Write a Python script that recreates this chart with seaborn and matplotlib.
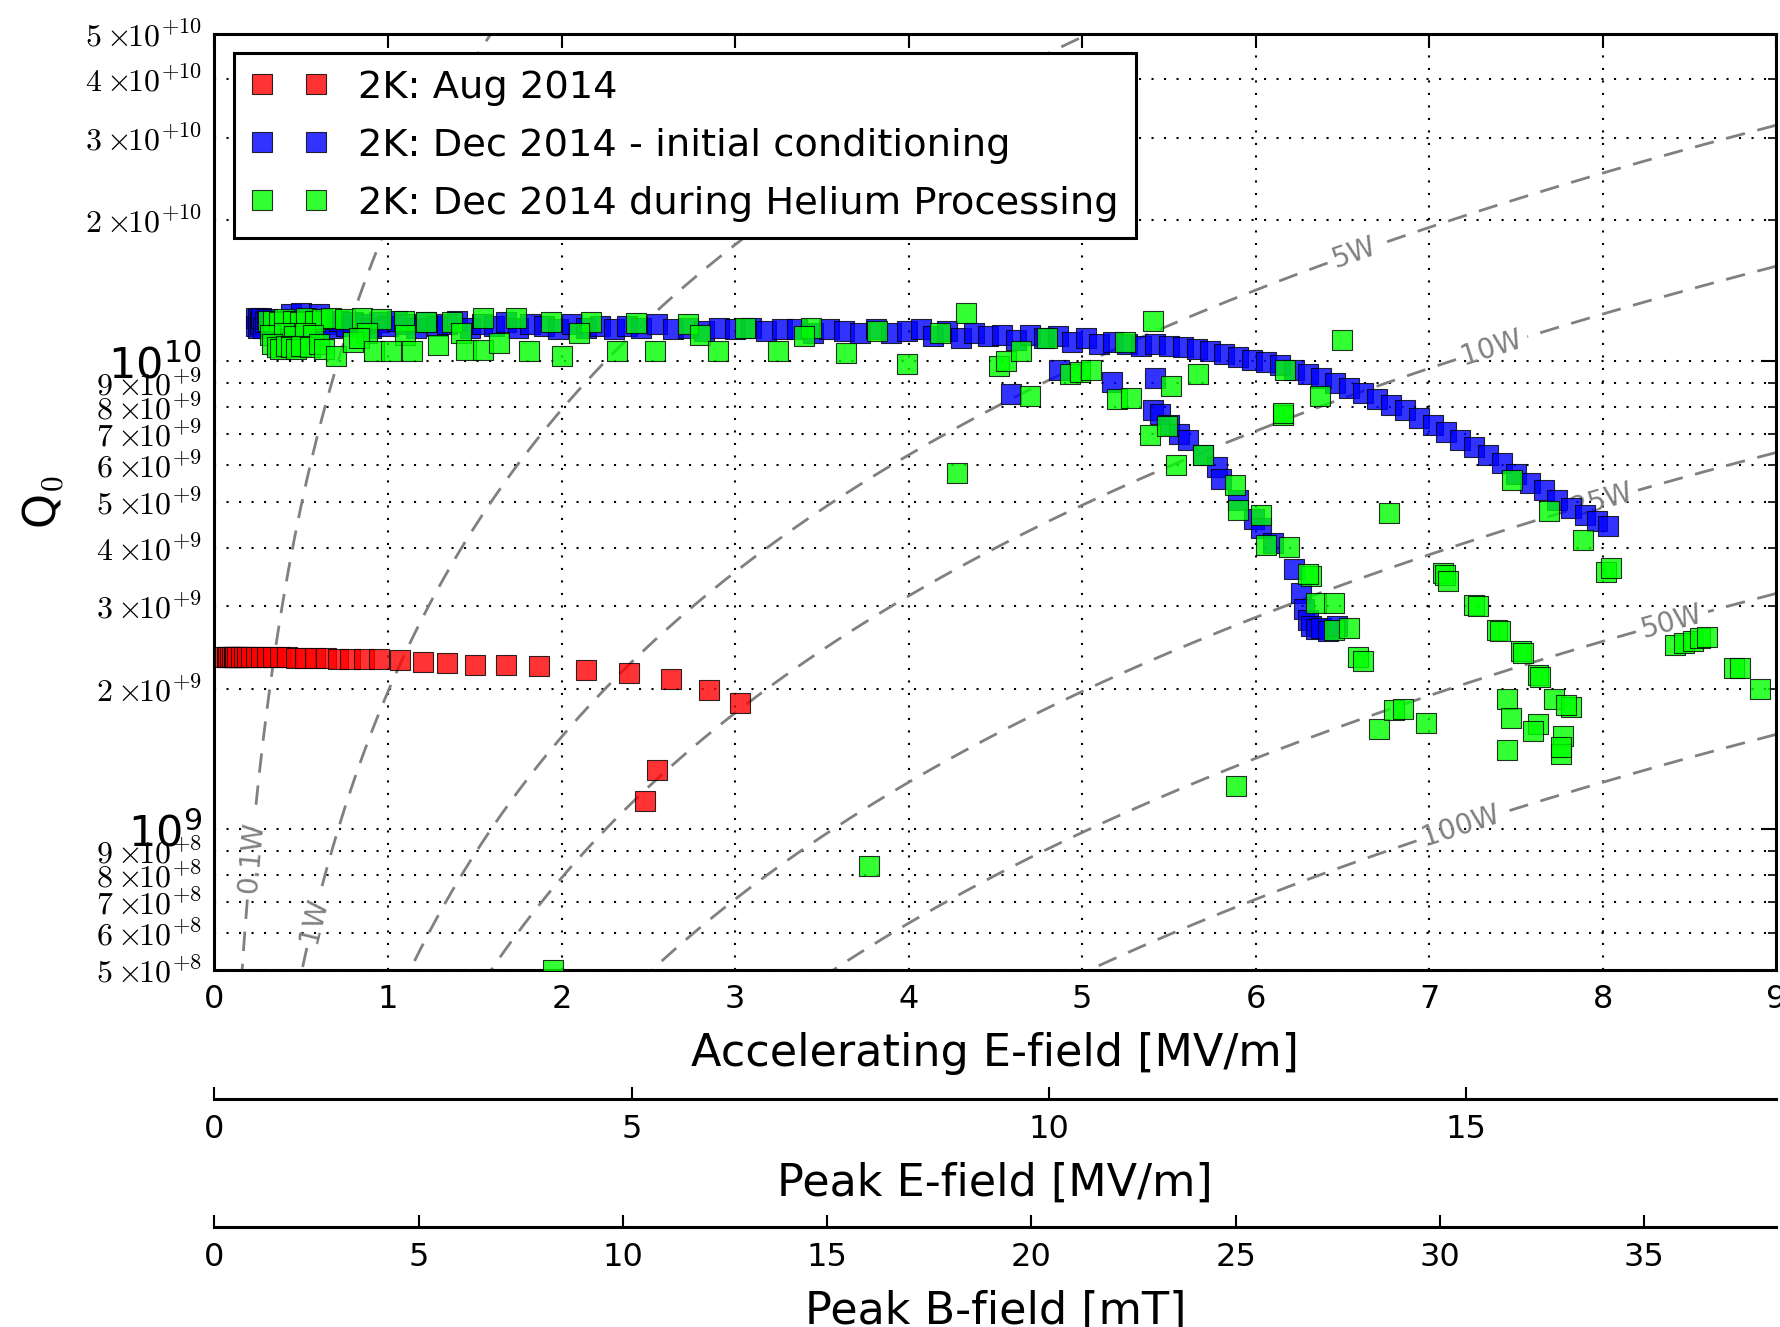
import numpy as np
import pandas as pd
import matplotlib
matplotlib.use("Agg")
import matplotlib.pyplot as plt
import seaborn as sns
from matplotlib.ticker import LogLocator, FuncFormatter, MultipleLocator

# ---------------- data ----------------
LEGEND_LABELS = ["2K: Aug 2014",
                 "2K: Dec 2014 - initial conditioning",
                 "2K: Dec 2014 during Helium Processing"]

# Aug 2014 (red): accelerating field [MV/m], Q0 [x1e9]
E_red = [0.06, 0.07, 0.08, 0.09, 0.10, 0.11, 0.12, 0.13, 0.15, 0.17,
         0.19, 0.21, 0.24, 0.27, 0.30, 0.34, 0.38, 0.42, 0.47, 0.52,
         0.58, 0.64, 0.71, 0.78, 0.86, 0.95, 1.07, 1.20, 1.34, 1.50,
         1.68, 1.87, 2.14, 2.39, 2.63, 2.85, 3.03, 2.55, 2.48]
Q_red = [2.34, 2.34, 2.34, 2.34, 2.34, 2.34, 2.34, 2.34, 2.34, 2.34,
         2.34, 2.34, 2.33, 2.33, 2.33, 2.33, 2.33, 2.33, 2.32, 2.32,
         2.32, 2.32, 2.31, 2.31, 2.31, 2.31, 2.30, 2.28, 2.27, 2.25,
         2.24, 2.23, 2.19, 2.16, 2.10, 1.99, 1.86, 1.34, 1.15]

# Dec 2014 initial conditioning (blue), Q0 [x1e9]
E_blue = [0.24, 0.24, 0.25, 0.25, 0.26, 0.26, 0.27, 0.28, 0.29, 0.30,
          0.32, 0.34, 0.36, 0.38, 0.41, 0.44, 0.47, 0.50, 0.53, 0.56,
          0.60, 0.64, 0.68, 0.72, 0.76, 0.80, 0.85, 0.90, 0.95, 1.00,
          1.05, 1.10, 1.16, 1.22, 1.28, 1.34, 1.40, 1.47, 1.54, 1.61,
          1.68, 1.75, 1.82, 1.90, 1.98, 2.06, 2.14, 2.22, 2.30, 2.38,
          2.46, 2.55, 2.64, 2.73, 2.82, 2.91, 3.00, 3.09, 3.18, 3.27,
          3.36, 3.45, 3.54, 3.63, 3.72, 3.81, 3.90, 3.99,
          4.07, 4.14, 4.22, 4.30, 4.38, 4.46, 4.54, 4.62, 4.70, 4.78,
          4.86, 4.94, 5.02, 5.10, 5.18, 5.26, 5.34, 5.42, 5.50, 5.58,
          5.66, 5.74, 5.82, 5.90, 5.98, 6.06, 6.14, 6.22, 6.30, 6.38,
          6.46, 6.54, 6.62, 6.70, 6.78, 6.86, 6.94, 7.02, 7.10, 7.18,
          7.26, 7.34, 7.42, 7.50, 7.58, 7.66, 7.74, 7.82, 7.90, 7.97,
          8.03,
          4.59, 4.87, 5.17, 5.42, 5.41, 5.45, 5.50, 5.56, 5.61, 5.70,
          5.78, 5.80, 5.90, 5.99, 6.03, 6.10, 6.22, 6.26, 6.28, 6.30,
          6.32, 6.35, 6.38, 6.42, 6.47]
Q_blue = [12.4, 11.9, 12.3, 11.8, 12.2, 12.0, 12.4, 11.8, 12.1, 12.3,
          11.9, 12.2, 11.8, 12.1, 12.0, 12.6, 11.9, 12.7, 12.1, 11.8,
          12.6, 12.0, 11.8, 12.2, 11.9, 12.1, 12.0, 11.8, 12.1, 11.9,
          12.2, 12.0, 11.8, 12.1, 11.9, 12.0, 12.2, 11.8, 12.0, 11.9,
          12.1, 11.8, 12.0, 11.9, 11.7, 12.0, 11.8, 11.9, 11.7, 11.9,
          11.8, 12.0, 11.7, 11.8, 11.6, 11.8, 11.7, 11.8, 11.6, 11.7,
          11.7, 11.5, 11.7, 11.6, 11.5, 11.7, 11.5, 11.6,
          11.7, 11.3, 11.6, 11.2, 11.5, 11.3, 11.4, 11.1, 11.4, 11.2,
          11.3, 11.0, 11.2, 10.9, 11.0, 10.9, 10.8, 10.9, 10.8, 10.7,
          10.6, 10.5, 10.35, 10.2, 10.05, 9.95, 9.8, 9.6, 9.4, 9.2,
          9.0, 8.75, 8.55, 8.3, 8.05, 7.85, 7.55, 7.3, 7.05, 6.8,
          6.55, 6.3, 6.05, 5.75, 5.5, 5.3, 5.05, 4.85, 4.7, 4.55,
          4.45,
          8.5, 9.6, 9.05, 9.2, 7.85, 7.7, 7.3, 7.0, 6.8, 6.3,
          5.95, 5.6, 5.05, 4.6, 4.4, 4.1, 3.6, 3.2, 2.95, 2.8,
          2.72, 2.68, 2.7, 2.65, 2.72]

# Dec 2014 during helium processing (green), Q0 [x1e9]
E_green = [0.31, 0.34, 0.37, 0.40, 0.45, 0.49, 0.53, 0.58, 0.62, 0.67,
           0.75, 0.85, 0.96, 1.09, 1.22, 1.37, 1.55, 1.74, 1.94, 2.17,
           2.43, 2.73, 3.06, 3.44, 3.82,
           0.32, 0.40, 0.46, 0.52, 0.57, 0.88, 1.10, 1.42, 2.10, 2.80, 3.40,
           0.33, 0.36, 0.38, 0.41, 0.44, 0.47, 0.50, 0.55, 0.60, 0.63,
           0.70, 0.80, 0.83, 0.92, 1.02, 1.14, 1.29, 1.45, 1.55, 1.64,
           1.81, 2.00, 2.32, 2.54, 2.90, 3.25, 3.64, 3.99,
           4.18, 4.33, 4.28, 4.52, 4.56, 4.65, 4.70, 4.80, 4.93, 4.99,
           5.05, 5.20, 5.28, 5.25, 5.41, 5.39, 5.49, 5.51, 5.54, 5.67,
           5.70, 5.88, 5.90, 6.03, 6.06, 6.19, 6.16, 6.17, 6.32, 6.35,
           6.45, 6.45, 6.54, 6.59, 6.62, 6.37, 6.50, 6.77, 6.30, 6.16,
           7.08, 7.09, 7.11, 7.26, 7.28, 7.39, 7.41, 7.53, 7.54, 7.63,
           7.64, 6.71, 6.80, 6.85, 6.98, 5.89, 7.45, 7.47, 7.45, 7.63,
           7.60, 7.72, 7.82, 7.79, 7.77, 7.76, 7.76, 3.77, 1.95, 8.42,
           8.47, 8.52, 8.56, 8.60, 8.76, 8.79, 8.91, 7.48, 7.69, 7.89,
           8.02, 8.05]
Q_green = [12.2, 12.2, 12.1, 12.3, 12.2, 12.1, 12.4, 12.2, 12.3, 12.4,
           12.3, 12.4, 12.3, 12.2, 12.1, 12.1, 12.35, 12.35, 12.1, 12.1,
           12.05, 12.0, 11.8, 11.8, 11.6,
           11.4, 11.5, 11.3, 11.5, 11.4, 11.5, 11.4, 11.5, 11.5, 11.4, 11.3,
           10.9, 10.7, 10.6, 10.8, 10.7, 10.6, 10.8, 10.7, 10.9, 10.6,
           10.25, 11.0, 11.2, 10.5, 10.5, 10.5, 10.85, 10.55, 10.55, 10.95,
           10.5, 10.25, 10.5, 10.5, 10.5, 10.5, 10.4, 9.85,
           11.5, 12.7, 5.77, 9.76, 10.0, 10.5, 8.42, 11.2, 9.37, 9.5,
           9.6, 8.3, 8.36, 11.0, 12.2, 6.97, 7.26, 8.85, 6.01, 9.37,
           6.31, 5.45, 4.82, 4.70, 4.06, 4.02, 7.69, 9.6, 3.48, 3.05,
           3.05, 2.67, 2.69, 2.34, 2.29, 8.42, 11.1, 4.74, 3.52, 7.75,
           3.53, 3.50, 3.40, 3.02, 3.00, 2.67, 2.65, 2.40, 2.38, 2.14,
           2.12, 1.64, 1.80, 1.81, 1.69, 1.24, 1.90, 1.73, 1.48, 1.68,
           1.62, 1.90, 1.83, 1.84, 1.58, 1.45, 1.50, 0.836, 0.50, 2.48,
           2.50, 2.53, 2.56, 2.58, 2.21, 2.21, 2.00, 5.59, 4.78, 4.16,
           3.55, 3.61]

# iso-power guide lines: P = K * Eacc^2 / Q0
POWER_LEVELS = [0.1, 1, 5, 10, 25, 50, 100]
K_POWER = 1.97e9
EPK_RATIO = 2.08    # peak E / Eacc
BPK_RATIO = 4.248   # peak B [mT] / Eacc [MV/m]

# ---------------- style ----------------
sns.set_style("white")
plt.rcParams.update({
    "font.family": ["DejaVu Sans"],
    "mathtext.fontset": "cm",
    "text.color": "black",
    "axes.labelcolor": "black",
    "axes.edgecolor": "black",
    "xtick.color": "black",
    "ytick.color": "black",
    "axes.linewidth": 2.2,
    "xtick.direction": "in",
    "ytick.direction": "in",
    "lines.dashed_pattern": [7.0, 4.6],
})

fig = plt.figure(figsize=(17.8, 13.27), dpi=100)
ax = fig.add_axes([0.1205, 0.2687, 0.8773, 0.7057])
ax.set_yscale("log")
ax.set_xlim(0, 9)
ax.set_ylim(5e8, 5e10)

# iso-power contours
E_grid = np.linspace(0.0, 9.0, 500)
Q_grid = np.logspace(8.6, 10.8, 500)
EE, QQ = np.meshgrid(E_grid, Q_grid)
PP = K_POWER * EE ** 2 / QQ
cs = ax.contour(EE, QQ, PP, levels=POWER_LEVELS, colors="0.5",
                linewidths=2.0, linestyles="dashed", zorder=2)
label_pos = [(0.21, 8.7e8), (0.57, 6.4e8), (6.57, 1.70e10), (7.36, 1.07e10),
             (8.00, 5.0e9), (8.40, 2.78e9), (7.18, 1.02e9)]
ax.clabel(cs, inline=True, inline_spacing=6, fmt=lambda v: f"{v:g}W",
          fontsize=20, manual=label_pos)


def draw(E, Q, color, label):
    df = pd.DataFrame({"E": E, "Q": np.asarray(Q) * 1e9})
    sns.scatterplot(data=df, x="E", y="Q", marker="s", s=207, color=color,
                    alpha=0.8, edgecolor="black", linewidth=0.8, ax=ax,
                    zorder=4, label=label, legend=False)
    return ax.collections[-1]


h_r = draw(E_red, Q_red, (1, 0, 0), LEGEND_LABELS[0])
h_b = draw(E_blue, Q_blue, (0, 0, 1), LEGEND_LABELS[1])
h_g = draw(E_green, Q_green, (0, 1, 0), LEGEND_LABELS[2])

ax.set_xlim(0, 9)
ax.set_ylim(5e8, 5e10)

# grid
grid_ls = (0, (1, 5))
ax.grid(True, which="major", axis="both", color="black", linestyle=grid_ls, linewidth=1.5)
ax.grid(True, which="minor", axis="y", color="black", linestyle=grid_ls, linewidth=1.5)
ax.set_axisbelow(True)


def minor_fmt(v, pos):
    e = int(np.floor(np.log10(v) + 1e-9))
    m = int(round(v / 10 ** e))
    return rf"${m}\times\!\!10^{{{e:+d}}}$"


ax.xaxis.set_major_locator(MultipleLocator(1))
ax.yaxis.set_major_locator(LogLocator(base=10, numticks=10))
ax.yaxis.set_minor_locator(LogLocator(base=10, subs=np.arange(2, 10), numticks=30))
ax.yaxis.set_minor_formatter(FuncFormatter(minor_fmt))
ax.tick_params(axis="y", which="major", labelsize=31, length=11, width=1.5, pad=9)
ax.tick_params(axis="y", which="minor", labelsize=23, length=6, width=1.2, pad=9)
ax.tick_params(axis="x", which="major", labelsize=23, length=10, width=1.5, pad=10)
ax.tick_params(which="both", top=True, right=True)

ax.set_xlabel("Accelerating E-field [MV/m]", fontsize=32, labelpad=12)
ax.set_ylabel("Q$_0$", fontsize=32)
ax.yaxis.set_label_coords(-0.095, 0.5)

# secondary field axes
sec1 = ax.secondary_xaxis(-0.1372, functions=(lambda e: e * EPK_RATIO, lambda p: p / EPK_RATIO))
sec1.xaxis.set_major_locator(MultipleLocator(5))
sec1.tick_params(direction="in", length=9, width=1.5, labelsize=23, pad=11)
sec1.spines["bottom"].set_linewidth(2.2)
sec1.set_xlabel("Peak E-field [MV/m]", fontsize=32, labelpad=12)

sec2 = ax.secondary_xaxis(-0.2739, functions=(lambda e: e * BPK_RATIO, lambda b: b / BPK_RATIO))
sec2.xaxis.set_major_locator(MultipleLocator(5))
sec2.tick_params(direction="in", length=9, width=1.5, labelsize=23, pad=11)
sec2.spines["bottom"].set_linewidth(2.2)
sec2.set_xlabel("Peak B-field [mT]", fontsize=32, labelpad=12)

leg = ax.legend(handles=[h_r, h_b, h_g], labels=LEGEND_LABELS, loc="upper left",
                bbox_to_anchor=(0.0125, 0.9797), borderaxespad=0, scatterpoints=2,
                scatteryoffsets=[0.5], fontsize=27.6, frameon=True, fancybox=False,
                framealpha=1, edgecolor="black", borderpad=0.44, labelspacing=0.57,
                handlelength=2.0, handletextpad=0.8)
leg.get_frame().set_linewidth(2.2)

fig.savefig("out.png", dpi=100)
